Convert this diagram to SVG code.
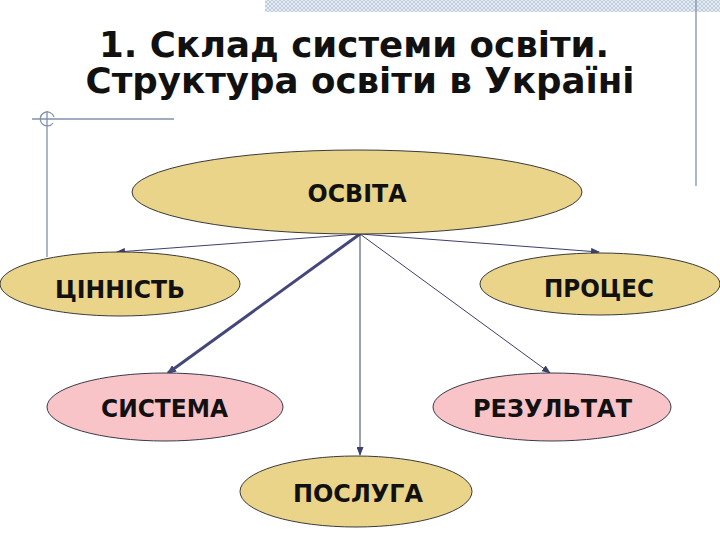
<svg xmlns="http://www.w3.org/2000/svg" width="720" height="540" viewBox="0 0 720 540">
<style>
.title{font-family:"DejaVu Sans","Noto Sans",sans-serif;font-weight:bold;font-size:35px;fill:#111;text-anchor:middle}
.lbl{font-family:"DejaVu Sans","Noto Sans",sans-serif;font-weight:bold;font-size:24px;fill:#111;text-anchor:middle}
.y{fill:#E9D48A;stroke:#3a3a3a;stroke-width:1}
.p{fill:#F9C4C8;stroke:#3a3a4a;stroke-width:1}
.c{stroke:#3d3f6b;stroke-width:1;fill:none}
.thick{stroke:#45477a;stroke-width:3;fill:none}
.deco{stroke:#8090aa;stroke-width:1.3;fill:none}
</style>
<defs>
<pattern id="hatch" width="4" height="4" patternUnits="userSpaceOnUse">
<rect width="4" height="4" fill="#e4ebf2"/>
<path d="M0,0 L4,4 M4,0 L0,4" stroke="#b8c6d6" stroke-width="0.8"/>
</pattern>
<marker id="ah" markerWidth="9" markerHeight="7" refX="8" refY="3.5" orient="auto" markerUnits="userSpaceOnUse">
<path d="M0,0 L9,3.5 L0,7 Z" fill="#3d3f6b"/>
</marker>
<marker id="ah2" markerWidth="10" markerHeight="8" refX="8" refY="4" orient="auto" markerUnits="userSpaceOnUse">
<path d="M0,0 L10,4 L0,8 Z" fill="#45477a"/>
</marker>
</defs>
<rect width="720" height="540" fill="#ffffff"/>
<g id="decor">
<rect x="265" y="0" width="455" height="12" fill="url(#hatch)"/>
<line class="deco" x1="696" y1="0" x2="696" y2="186"/>
<line class="deco" x1="32" y1="119" x2="174" y2="119"/>
<line class="deco" x1="47" y1="111" x2="47" y2="257"/>
<path class="deco" d="M53,123 A7,7 0 1 1 54,117"/>
</g>
<g id="title">
<text class="title" x="354" y="57" textLength="510" lengthAdjust="spacingAndGlyphs">1. Склад системи освіти.</text>
<text class="title" x="360" y="93" textLength="549" lengthAdjust="spacingAndGlyphs">Структура освіти в Україні</text>
</g>
<g id="connectors">
<line class="c" x1="360" y1="234" x2="117" y2="252" marker-end="url(#ah)"/>
<line class="c" x1="360" y1="234" x2="599" y2="252" marker-end="url(#ah)"/>
<line class="thick" x1="360" y1="234" x2="168" y2="373" marker-end="url(#ah2)"/>
<line class="c" x1="360" y1="234" x2="360" y2="455" marker-end="url(#ah)"/>
<line class="c" x1="360" y1="234" x2="550" y2="373" marker-end="url(#ah)"/>
</g>
<g id="osvita">
<ellipse class="y" cx="357" cy="192" rx="225" ry="42"/>
<text class="lbl" x="357" y="202" textLength="99" lengthAdjust="spacingAndGlyphs">ОСВІТА</text>
</g>
<g id="tsinnist">
<ellipse class="y" cx="120" cy="284" rx="120" ry="32"/>
<text class="lbl" x="120" y="298" textLength="130" lengthAdjust="spacingAndGlyphs">ЦІННІСТЬ</text>
</g>
<g id="protses">
<ellipse class="y" cx="600" cy="284" rx="120" ry="31"/>
<text class="lbl" x="599" y="297" textLength="110" lengthAdjust="spacingAndGlyphs">ПРОЦЕС</text>
</g>
<g id="systema">
<ellipse class="p" cx="165" cy="407" rx="118" ry="34"/>
<text class="lbl" x="164.5" y="417" textLength="127" lengthAdjust="spacingAndGlyphs">СИСТЕМА</text>
</g>
<g id="rezultat">
<ellipse class="p" cx="552" cy="407" rx="119" ry="34"/>
<text class="lbl" x="552.5" y="417" textLength="159" lengthAdjust="spacingAndGlyphs">РЕЗУЛЬТАТ</text>
</g>
<g id="posluha">
<ellipse class="y" cx="356" cy="491.5" rx="116" ry="35.5"/>
<text class="lbl" x="358" y="502" textLength="130" lengthAdjust="spacingAndGlyphs">ПОСЛУГА</text>
</g>
</svg>
